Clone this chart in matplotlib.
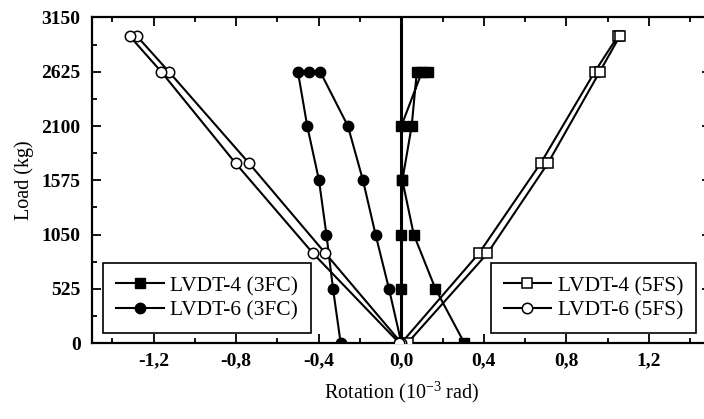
import matplotlib
matplotlib.use('Agg')
from matplotlib import pyplot as plt
from matplotlib.ticker import MultipleLocator, AutoMinorLocator, FuncFormatter

plt.rcParams['font.family'] = 'Liberation Serif'
plt.rcParams['mathtext.fontset'] = 'custom'
plt.rcParams['mathtext.rm'] = 'Liberation Serif'

# 3FC specimen: load path up, hold at 2625, back down
load_3fc = [0, 525, 1050, 1575, 2100, 2625, 2625, 2625, 2100, 1575, 1050, 525, 0]
rot_lvdt4_3fc = [0.0, 0.0, 0.0, 0.005, 0.05, 0.075, 0.13, 0.10, 0.0, 0.005, 0.06, 0.165, 0.305]
rot_lvdt6_3fc = [0.0, -0.06, -0.125, -0.186, -0.259, -0.393, -0.448, -0.501,
                 -0.456, -0.399, -0.363, -0.331, -0.294]

# 5FS specimen
load_5fs = [0, 868, 1740, 2625, 2970, 2970, 2625, 1740, 868, 0]
rot_lvdt4_5fs = [0.0, 0.376, 0.675, 0.937, 1.049, 1.058, 0.961, 0.710, 0.417, 0.03]
rot_lvdt6_5fs = [0.0, -0.368, -0.738, -1.126, -1.281, -1.316, -1.163, -0.803, -0.428, -0.01]

fig = plt.figure(figsize=(7.04, 4.19), dpi=100)
ax = fig.add_axes([91.7 / 704, 76 / 419, 619.3 / 704, 325.5 / 419])

ax.axvline(0, color='black', lw=2.2, zorder=1)

lw = 1.5
l1, = ax.plot(rot_lvdt4_3fc, load_3fc, color='black', lw=lw, marker='s', ms=6.5,
              mfc='black', mec='black', label='LVDT-4 (3FC)', zorder=3)
l2, = ax.plot(rot_lvdt6_3fc, load_3fc, color='black', lw=lw, marker='o', ms=7.5,
              mfc='black', mec='black', label='LVDT-6 (3FC)', zorder=3)
l3, = ax.plot(rot_lvdt4_5fs, load_5fs, color='black', lw=lw, marker='s', ms=6.5,
              mfc='white', mec='black', mew=1.1, label='LVDT-4 (5FS)', zorder=3)
l4, = ax.plot(rot_lvdt6_5fs, load_5fs, color='black', lw=lw, marker='o', ms=7.5,
              mfc='white', mec='black', mew=1.1, label='LVDT-6 (5FS)', zorder=3)

ax.set_xlim(-1.5, 1.5)
ax.set_ylim(0, 3150)
ax.xaxis.set_major_locator(MultipleLocator(0.4))
ax.xaxis.set_minor_locator(MultipleLocator(0.2))
ax.yaxis.set_major_locator(MultipleLocator(525))
ax.yaxis.set_minor_locator(AutoMinorLocator(2))


def comma_fmt(v, pos):
    if abs(v) < 1e-9:
        v = 0.0
    return f'{v:.1f}'.replace('.', ',')


ax.xaxis.set_major_formatter(FuncFormatter(comma_fmt))
ax.tick_params(which='both', direction='in', top=True, right=True, width=1.3)
ax.tick_params(which='major', length=6.5)
ax.tick_params(which='minor', length=3.5)
ax.tick_params(axis='x', which='major', pad=7, labelsize=14)
ax.tick_params(axis='y', which='major', pad=8, labelsize=14)
for lab in ax.get_xticklabels() + ax.get_yticklabels():
    lab.set_fontweight('bold')
for sp in ax.spines.values():
    sp.set_linewidth(1.6)

ax.set_xlabel('Rotation (10$^{\\mathrm{-3}}$ rad)', fontsize=14.5, labelpad=7)
ax.set_ylabel('Load (kg)', fontsize=14.5, labelpad=5)

leg_kw = dict(borderaxespad=0, fontsize=15.5, frameon=True, fancybox=False,
              edgecolor='black', framealpha=1, handlelength=2.2,
              handletextpad=0.3, labelspacing=0.2, borderpad=0.6)
leg1 = ax.legend(handles=[l1, l2], loc='lower left', bbox_to_anchor=(0.0187, 0.0298), **leg_kw)
leg1.get_frame().set_linewidth(1.2)
ax.add_artist(leg1)
leg2 = ax.legend(handles=[l3, l4], loc='lower right', bbox_to_anchor=(0.9758, 0.0298), **leg_kw)
leg2.get_frame().set_linewidth(1.2)

fig.savefig('out.png', dpi=100)
